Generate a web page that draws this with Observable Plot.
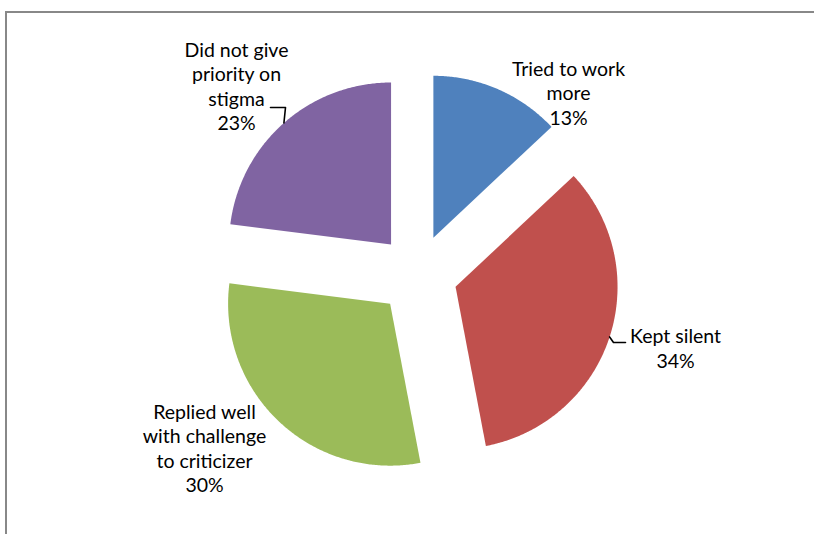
<!DOCTYPE html>
<html><head><meta charset="utf-8">
<script src="https://cdn.jsdelivr.net/npm/d3@7"></script>
<script src="https://cdn.jsdelivr.net/npm/@observablehq/plot@0.6"></script>
<style>
html,body{margin:0;padding:0;background:#fff}
body{width:814px;height:534px;position:relative;overflow:hidden}
#frame{position:absolute;left:5px;top:11px;width:1000px;height:1000px;border:2px solid #888;box-sizing:border-box}
#chart{position:absolute;left:0;top:0}
</style></head><body>
<div id="frame"></div><div id="chart"></div>
<script>
// ---- data ----
const categories = ["Tried to work more", "Kept silent", "Replied well with challenge to criticizer", "Did not give priority on stigma"];
const labelLines = [["Tried to work", "more"], ["Kept silent"], ["Replied well", "with challenge", "to criticizer"], ["Did not give", "priority on", "stigma"]];
const values = [13, 34, 30, 23];
const colors = ["#4F81BD", "#C0504D", "#9BBB59", "#8064A2"];

// ---- layout (pixels) ----
const W = 814, H = 534;
const pie = {cx: 417, cy: 274, r: 162, explode: 40};
const labelPos = [
  {x: 568, y: 92},
  {x: 675, y: 347},
  {x: 204, y: 447},
  {x: 236, y: 85}
];
// leader lines: elbow and end (label side) points, null when none
const leaders = [null, [[613, 342], [625, 342]], null, [[285, 107], [270, 107]]];
const fontSize = 19.5, lineH = 24.5;

const arcs = d3.pie().sort(null).value(d => d)(values);
const slices = arcs.map((a, i) => {
  const mid = (a.startAngle + a.endAngle) / 2;
  const ox = pie.cx + pie.explode * Math.sin(mid), oy = pie.cy - pie.explode * Math.cos(mid);
  const pts = [{x: ox, y: oy}];
  const n = Math.max(2, Math.ceil((a.endAngle - a.startAngle) / (Math.PI / 360)));
  for (let k = 0; k <= n; k++) {
    const t = a.startAngle + (a.endAngle - a.startAngle) * k / n;
    pts.push({x: ox + pie.r * Math.sin(t), y: oy - pie.r * Math.cos(t)});
  }
  pts.push({x: ox, y: oy});
  return {pts, ox, oy, mid};
});

const labels = categories.map((c, i) => ({
  text: labelLines[i].join("\n") + "\n" + values[i] + "%",
  x: labelPos[i].x, y: labelPos[i].y
}));

const leaderMarks = [];
leaders.forEach((l, i) => {
  if (!l) return;
  const s = slices[i];
  const start = {x: s.ox + pie.r * Math.sin(s.mid), y: s.oy - pie.r * Math.cos(s.mid)};
  const pts = [start, ...l.map(([x, y]) => ({x, y}))];
  leaderMarks.push(Plot.line(pts, {x: "x", y: "y", stroke: "#000", strokeWidth: 1.6, curve: "linear"}));
});

const chart = Plot.plot({
  width: W, height: H,
  margin: 0,
  x: {domain: [0, W], range: [0, W], axis: null},
  y: {domain: [0, H], range: [0, H], axis: null},
  style: {fontFamily: "Lato, 'Noto Sans', sans-serif", background: "transparent"},
  marks: [
    ...slices.map((s, i) => Plot.line(s.pts, {x: "x", y: "y", fill: colors[i], stroke: "none", curve: "linear"})),
    ...leaderMarks,
    Plot.text(labels, {x: "x", y: "y", text: "text", fontSize, lineHeight: lineH / fontSize, lineAnchor: "middle", textAnchor: "middle", fill: "#000"})
  ]
});
document.getElementById("chart").appendChild(chart);
</script>
</body></html>
